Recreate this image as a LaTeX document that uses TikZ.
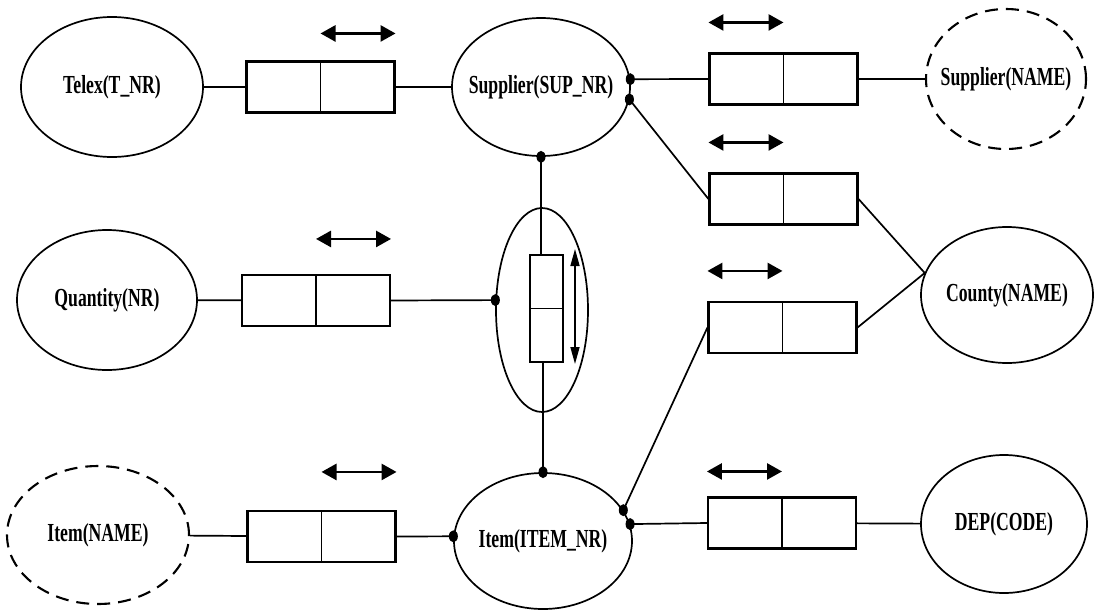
\documentclass[tikz,border=0pt]{standalone}
\usepackage{fontspec}
\setmainfont{Liberation Serif}[FakeStretch=0.68]
\usetikzlibrary{shapes.geometric,arrows.meta}

\begin{document}
\begin{tikzpicture}[x=1pt,y=-1pt]
  \tikzset{ent/.style = {ellipse, draw, line width=1.7pt, inner sep=0pt, font=\bfseries\fontsize{26}{30}\selectfont},
           weak/.style = {ent, line width=2.1pt, dash pattern=on 13pt off 8pt},
           cell/.style = {draw, line width=2.1pt, minimum width=148pt, minimum height=51pt, inner sep=0pt,
             path picture={\draw[line width=1.8pt] (path picture bounding box.north) -- (path picture bounding box.south);}},
           vcell/.style = {draw, line width=2pt, minimum width=33pt, minimum height=107pt, inner sep=0pt,
             path picture={\draw[line width=1.6pt] (path picture bounding box.west) -- (path picture bounding box.east);}},
           dot/.style = {ellipse, fill, inner sep=0pt, minimum width=9pt, minimum height=12pt},
           link/.style = {line width=1.7pt},
           twoway/.style = {line width=2.6pt, {Triangle[length=15pt,width=16pt]}-{Triangle[length=15pt,width=16pt]}},
           updown/.style = {line width=1.6pt, {Triangle[length=17pt,width=9pt]}-{Triangle[length=17pt,width=9pt]}}}
  \useasboundingbox (0,0) rectangle (1101,611);

  \node[ent, minimum width=182pt, minimum height=140pt] (telex) at (112,87) {\makebox[0pt]{Telex(T\_NR)}};
  \node[ent, minimum width=178pt, minimum height=138pt] (supno) at (541,87) {\makebox[0pt]{Supplier(SUP\_NR)}};
  \node[weak, minimum width=160pt, minimum height=140pt] (supname) at (1006,79) {\makebox[0pt]{Supplier(NAME)}};
  \node[ent, minimum width=180pt, minimum height=140pt] (quant) at (107,300) {\makebox[0pt]{Quantity(NR)}};
  \node[ent, minimum width=172pt, minimum height=136pt] (county) at (1007,295) {\makebox[0pt]{County(NAME)}};
  \node[weak, minimum width=182pt, minimum height=138pt] (itemname) at (98,535) {\makebox[0pt]{Item(NAME)}};
  \node[ent, minimum width=178pt, minimum height=136pt] (itemno) at (543,541) {\makebox[0pt]{Item(ITEM\_NR)}};
  \node[ent, minimum width=166pt, minimum height=138pt] (dep) at (1004,524) {\makebox[0pt]{DEP(CODE)}};
  \node[ent, minimum width=92pt, minimum height=204pt] (rel) at (542,310) {};

  \node[cell] (b1) at (320.5,87) {};
  \node[cell] (bq) at (316,300.5) {};
  \node[cell] (bi) at (321.5,536.5) {};
  \node[cell] (b2) at (783.5,79) {};
  \node[cell] (b3) at (783.5,199) {};
  \node[cell] (b4) at (782.5,327.5) {};
  \node[cell] (b5) at (782,523) {};
  \node[vcell] (vb) at (546,308.5) {};

  \draw[link] (telex) -- (b1);
  \draw[link] (b1) -- (supno);
  \draw[link] (supno.5) node[dot] (d1) {} -- (b2.west);
  \draw[link] (b2) -- (supname);
  \draw[link] (supno.-8.5) node[dot] (d2) {} -- (b3.west);
  \draw[link] (b3.east) -- (county.165);
  \draw[link] (b4.east) -- (county.165);
  \draw[link] (supno.south) node[dot] (d3) {} -- (supno.south |- vb.north);
  \draw[link] (itemno.north) node[dot] (d4) {} -- (itemno.north |- vb.south);
  \draw[link] (quant) -- (bq);
  \draw[link] (bq.east) -- (rel.168) node[dot] (d5) {};
  \draw[link] (itemname) -- (bi);
  \draw[link] (bi.east) -- (itemno.177) node[dot] (d6) {};
  \draw[link] (itemno.21) node[dot] (d7) {} -- (b4.west);
  \draw[link] (itemno.11) node[dot] (d8) {} -- (b5.west);
  \draw[link] (b5) -- (dep);

  \draw[twoway] ([yshift=27pt]b1.north) -- ([yshift=27pt]b1.north east);
  \draw[twoway] ([yshift=35pt]bq.north) -- ([yshift=35pt]bq.north east);
  \draw[twoway] ([yshift=38pt]bi.north) -- ([yshift=38pt]bi.north east);
  \draw[twoway] ([yshift=30pt]b2.north west) -- ([yshift=30pt]b2.north);
  \draw[twoway] ([yshift=30pt]b3.north west) -- ([yshift=30pt]b3.north);
  \draw[twoway] ([yshift=30pt]b4.north west) -- ([yshift=30pt]b4.north);
  \draw[twoway] ([yshift=25pt]b5.north west) -- ([yshift=25pt]b5.north);
  \draw[updown] ([xshift=11.5pt,yshift=5pt]vb.north east) -- ([xshift=11.5pt,yshift=-1pt]vb.south east);
\end{tikzpicture}
\end{document}
